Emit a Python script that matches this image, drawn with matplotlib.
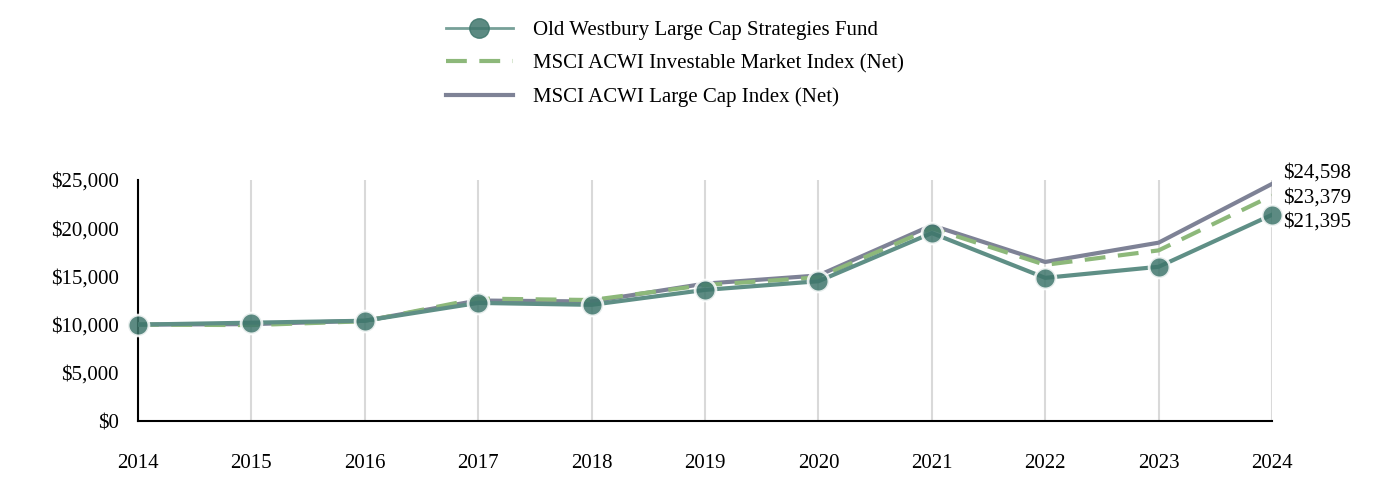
import matplotlib
matplotlib.use("Agg")
import matplotlib.pyplot as plt
from matplotlib.lines import Line2D
from matplotlib.ticker import FuncFormatter

years = [2014, 2015, 2016, 2017, 2018, 2019, 2020, 2021, 2022, 2023, 2024]
fund = [10000, 10200, 10400, 12250, 12050, 13600, 14500, 19500, 14850, 16000, 21395]
imi = [10000, 9950, 10350, 12700, 12550, 14100, 14900, 20000, 16200, 17700, 23379]
large_cap = [10000, 10050, 10400, 12500, 12400, 14250, 15100, 20300, 16500, 18500, 24598]

fund_name = "Old Westbury Large Cap Strategies Fund"
imi_name = "MSCI ACWI Investable Market Index (Net)"
lc_name = "MSCI ACWI Large Cap Index (Net)"

plt.rcParams["font.family"] = ["Liberation Serif", "DejaVu Serif"]

fig = plt.figure(figsize=(13.92, 4.92), dpi=100)
ax = fig.add_axes([0.0991, 0.1443, 0.8147, 0.4898])

ax.plot(years, large_cap, color="#7e8296", lw=3, zorder=3)
ax.plot(years, imi, color="#8db87a", lw=3, ls=(0, (5, 3)), zorder=4)
ax.plot(years, fund, color="#5f8f86", lw=3, zorder=5)
ax.plot(years, fund, ls="none", marker="o", ms=15, mfc="#3f766c", mec="white",
        mew=2, alpha=0.85, zorder=6, clip_on=False)

handles = [
    Line2D([], [], color="#5f8f86", lw=2, marker="o", ms=14, mfc="#3f766c", mec="#3f766c", alpha=0.85),
    Line2D([], [], color="#8db87a", lw=3, ls=(0, (5, 3))),
    Line2D([], [], color="#7e8296", lw=3),
]
fig.legend(handles, [fund_name, imi_name, lc_name], loc="upper center",
           bbox_to_anchor=(0.485, 1.0), frameon=False, fontsize=15,
           handlelength=3.2, handletextpad=1.0, labelspacing=0.65,
           borderaxespad=0.6)

ax.set_xlim(2014, 2024)
ax.set_ylim(0, 25000)
ax.set_xticks(years)
ax.set_yticks(range(0, 25001, 5000))
ax.yaxis.set_major_formatter(FuncFormatter(lambda v, p: f"${v:,.0f}"))
ax.tick_params(axis="both", length=0, labelsize=15)
ax.tick_params(axis="x", pad=24)
ax.tick_params(axis="y", pad=14)
ax.grid(axis="x", color="#d9d9d9", lw=1.5)
ax.set_axisbelow(True)
for s in ["top", "right"]:
    ax.spines[s].set_visible(False)
ax.spines["left"].set_linewidth(1.5)
ax.spines["bottom"].set_linewidth(1.5)

# end labels
for val, dy in [(large_cap[-1], 8), (imi[-1], -2), (fund[-1], -5)]:
    ax.annotate(f"${val:,.0f}", (years[-1], val), xytext=(8, dy),
                textcoords="offset points", fontsize=15, va="center", ha="left",
                annotation_clip=False)

fig.savefig("out.png", dpi=100, facecolor="white")
